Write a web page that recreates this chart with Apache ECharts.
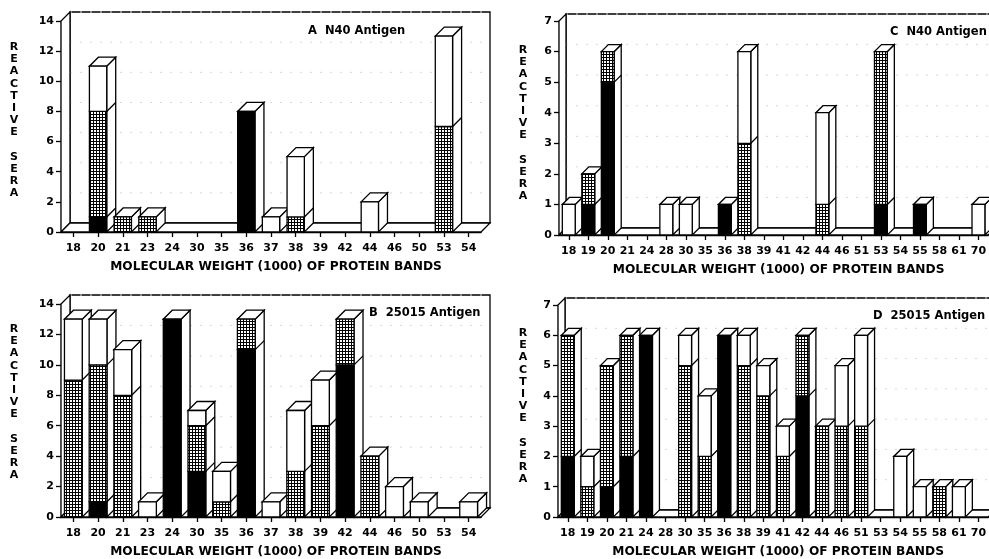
<!DOCTYPE html>
<html><head><meta charset="utf-8">
<script src="https://cdn.jsdelivr.net/npm/echarts/dist/echarts.min.js"></script>
<style>html,body{margin:0;padding:0;background:#fff}#c{width:989px;height:559px}</style>
</head><body><div id="c"></div>
<script>
// ---- data ----
const catsAB = ['18','20','21','23','24','30','35','36','37','38','39','42','44','46','50','53','54'];
const catsCD = ['18','19','20','21','24','28','30','35','36','38','39','41','42','44','46','51','53','54','55','58','61','70'];

const aBlack  = [0,1,0,0,0,0,0,8,0,0,0,0,0,0,0,0,0];
const aDotted = [0,7,1,1,0,0,0,0,0,1,0,0,0,0,0,7,0];
const aWhite  = [0,3,0,0,0,0,0,0,1,4,0,0,2,0,0,6,0];

const bBlack  = [0,1,0,0,13,3,0,11,0,0,0,10,0,0,0,0,0];
const bDotted = [9,9,8,0,0,3,1,2,0,3,6,3,4,0,0,0,0];
const bWhite  = [4,3,3,1,0,1,2,0,1,4,3,0,0,2,1,0,1];

const cBlack  = [0,1,5,0,0,0,0,0,1,0,0,0,0,0,0,0,1,0,1,0,0,0];
const cDotted = [0,1,1,0,0,0,0,0,0,3,0,0,0,1,0,0,5,0,0,0,0,0];
const cWhite  = [1,0,0,0,0,1,1,0,0,3,0,0,0,3,0,0,0,0,0,0,0,1];

const dBlack  = [2,0,1,2,6,0,0,0,6,0,0,0,4,0,0,0,0,0,0,0,0,0];
const dDotted = [4,1,4,4,0,0,5,2,0,5,4,2,2,3,3,3,0,0,0,1,0,0];
const dWhite  = [0,1,0,0,0,0,1,2,0,1,1,1,0,0,2,3,0,2,1,0,1,0];

const yTicksAB = [0,2,4,6,8,10,12,14];
const yTicksCD = [0,1,2,3,4,5,6,7];

const titles = ['A  N40 Antigen','B  25015 Antigen','C  N40 Antigen','D  25015 Antigen'];
const xTitle = 'MOLECULAR WEIGHT (1000) OF PROTEIN BANDS';
const yTitle = 'R\nE\nA\nC\nT\nI\nV\nE\n\nS\nE\nR\nA';

// ---- rendering ----
const FONT = 'DejaVu Sans';
function makePattern(){
  const c=document.createElement('canvas'); c.width=3; c.height=3;
  const g=c.getContext('2d'); g.fillStyle='#fff'; g.fillRect(0,0,3,3);
  g.fillStyle='#000'; g.fillRect(0,0,3,1); g.fillRect(0,0,1,3);
  return c;
}
const pattern = {image: makePattern(), repeat: 'repeat'};
const ST = {stroke:'#000', lineWidth:1.3};

function bgRender(depth, ticks){
  return function(params, api){
    const cs=params.coordSys, x=cs.x, y=cs.y, w=cs.width, h=cs.height, d=depth;
    const ch=[];
    ch.push({type:'rect', shape:{x:x+d,y:y-d,width:w,height:h}, style:Object.assign({fill:'#fff'},ST)});
    ticks.forEach(v=>{ if(v<=0) return; const yy=api.coord([0,v])[1]-d;
      ch.push({type:'line', shape:{x1:x+d,y1:yy,x2:x+w+d,y2:yy}, style:{stroke:'#d8d8d8',lineWidth:1,lineDash:[2,8]}});});
    ch.push({type:'polygon', shape:{points:[[x,y+h],[x,y],[x+d,y-d],[x+d,y+h-d]]}, style:Object.assign({fill:'#fff'},ST)});
    ch.push({type:'polygon', shape:{points:[[x,y+h],[x+w,y+h],[x+w+d,y+h-d],[x+d,y+h-d]]}, style:Object.assign({fill:'#fff'},ST)});
    return {type:'group', children:ch};
  };
}
function barRender(depth, frac){
  return function(params, api){
    const i=api.value(0);
    const vals=[api.value(1), api.value(2), api.value(3)];
    const total=vals[0]+vals[1]+vals[2];
    if(total<=0) return;
    const band=api.size([1,0])[0], w=band*frac;
    const p0=api.coord([i,0]);
    const xl=p0[0]-w/2, xr=p0[0]+w/2, y0=p0[1];
    const yt=api.coord([i,total])[1], d=depth;
    const ch=[];
    ch.push({type:'polygon', shape:{points:[[xr,y0],[xr,yt],[xr+d,yt-d],[xr+d,y0-d]]}, style:Object.assign({fill:'#fff'},ST)});
    ch.push({type:'polygon', shape:{points:[[xl,yt],[xr,yt],[xr+d,yt-d],[xl+d,yt-d]]}, style:Object.assign({fill:'#fff'},ST)});
    const fills=['#000', pattern, '#fff'];
    let acc=0;
    for(let k=0;k<3;k++){
      if(vals[k]<=0) continue;
      const yb=api.coord([i,acc])[1]; acc+=vals[k]; const ytp=api.coord([i,acc])[1];
      ch.push({type:'rect', shape:{x:xl,y:ytp,width:w,height:yb-ytp}, style:Object.assign({fill:fills[k]},ST)});
      if(acc<total) ch.push({type:'line', shape:{x1:xr,y1:ytp,x2:xr+d,y2:ytp-d}, style:ST});
    }
    return {type:'group', children:ch};
  };
}

const grids = [
  {left:61, top:21, width:420, height:211},
  {left:61, top:304, width:420, height:213},
  {left:559, top:21, width:434, height:214},
  {left:558, top:305, width:434, height:213}
];
const panels = [
  {cats:catsAB, b:aBlack, d:aDotted, w:aWhite, ticks:yTicksAB, depth:9, frac:0.7},
  {cats:catsAB, b:bBlack, d:bDotted, w:bWhite, ticks:yTicksAB, depth:9, frac:0.72},
  {cats:catsCD, b:cBlack, d:cDotted, w:cWhite, ticks:yTicksCD, depth:7, frac:0.66},
  {cats:catsCD, b:dBlack, d:dDotted, w:dWhite, ticks:yTicksCD, depth:7, frac:0.66}
];

const xAxis=[], yAxis=[], series=[];
panels.forEach((p,k)=>{
  xAxis.push({type:'category', gridIndex:k, data:p.cats, boundaryGap:true,
    axisLine:{show:true, lineStyle:{color:'#000', width:1.3}},
    axisTick:{show:true, alignWithLabel:true, length:5, lineStyle:{color:'#000', width:1.3}},
    axisLabel:{color:'#000', fontFamily:FONT, fontWeight:'bold', fontSize:11, margin:11, interval:0},
    name:xTitle, nameLocation:'middle', nameGap:29,
    nameTextStyle:{color:'#000', fontFamily:FONT, fontWeight:'bold', fontSize:12.2, padding:[0,0,0,10]},
    splitLine:{show:false}});
  yAxis.push({type:'value', gridIndex:k, min:0, max:p.ticks[p.ticks.length-1], interval:p.ticks[1]-p.ticks[0],
    axisLine:{show:true, lineStyle:{color:'#000', width:1.3}},
    axisTick:{show:true, length:5, lineStyle:{color:'#000', width:1.3}},
    axisLabel:{color:'#000', fontFamily:FONT, fontWeight:'bold', fontSize:11, margin:7},
    splitLine:{show:false}});
  series.push({type:'custom', xAxisIndex:k, yAxisIndex:k, z:1, silent:true,
    renderItem:bgRender(p.depth, p.ticks), data:[[0,0]], encode:{x:0,y:1}});
  series.push({type:'custom', xAxisIndex:k, yAxisIndex:k, z:2, silent:true,
    renderItem:barRender(p.depth, p.frac),
    data:p.cats.map((c,i)=>[i, p.b[i], p.d[i], p.w[i]]), encode:{x:0,y:[1,2,3]}});
});

const txt=(x,y,s,extra)=>({type:'text', x:x, y:y, silent:true, z:10,
  style:Object.assign({text:s, fill:'#000', font:'bold 11.5px "'+FONT+'"', textVerticalAlign:'middle'}, extra||{})});
const yt = {textAlign:'center', textVerticalAlign:'top', lineHeight:12.2, font:'bold 11px "'+FONT+'"'};
const graphic=[
  txt(308,31,titles[0]), txt(369,313,titles[1]), txt(890,32,titles[2]), txt(873,316,titles[3]),
  txt(14,41,yTitle,yt), txt(14,323,yTitle,yt), txt(523,44,yTitle,yt), txt(523,327,yTitle,yt)
];

const chart=echarts.init(document.getElementById('c'), null, {renderer:'canvas'});
chart.setOption({animation:false, backgroundColor:'#fff', grid:grids, xAxis, yAxis, series, graphic});
</script></body></html>
